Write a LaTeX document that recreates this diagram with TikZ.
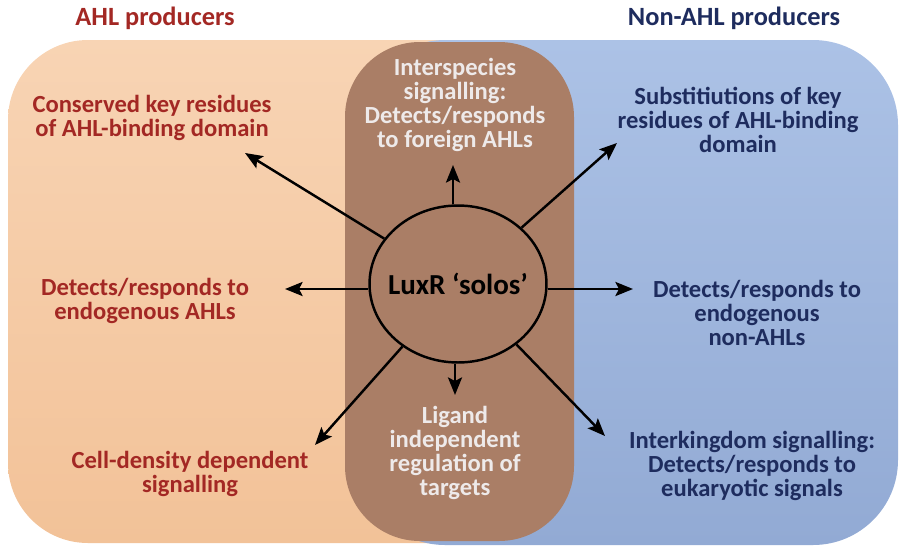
\documentclass[tikz,border=0pt]{standalone}
\usepackage{fontspec}
\setmainfont{Carlito}
\usetikzlibrary{shapes.geometric,arrows.meta}
\definecolor{peach}{RGB}{242,194,152}
\definecolor{peachlight}{RGB}{248,212,180}
\definecolor{skyblue}{RGB}{146,170,212}
\definecolor{skylight}{RGB}{172,194,230}
\definecolor{mocha}{RGB}{170,126,102}
\definecolor{ahlred}{RGB}{163,40,36}
\definecolor{ahlnavy}{RGB}{30,44,94}
\definecolor{paletext}{RGB}{238,234,234}

\begin{document}
\begin{tikzpicture}[x=0.02cm,y=-0.02cm,>={Stealth[length=10pt,width=8pt,inset=2pt]},
    every node/.style={align=center,font=\bfseries\fontsize{14}{13.6}\selectfont},
    prod/.style={text=ahlred},
    nonprod/.style={text=ahlnavy},
    shared/.style={text=paletext},
    heading/.style={font=\bfseries\fontsize{15}{16}\selectfont},
    hub/.style={ellipse,draw,line width=1.4pt,inner sep=0pt,minimum width=3.54cm,minimum height=3.14cm},
    con/.style={->,line width=1.4pt}
    ]
    \useasboundingbox (0,0) rectangle (900,545);
    % panels
    \shade[top color=peachlight,bottom color=peach,rounded corners=1.6cm] (8,40) rectangle (600,543);
    \shade[top color=skylight,bottom color=skyblue,rounded corners=1.7cm] (360,40) rectangle (898,545);
    \fill[mocha,rounded corners=1.5cm] (345,42) rectangle (574,541);

    \node (ahl) [prod,heading] at (155,18) {AHL producers};
    \node (nonahl) [nonprod,heading] at (734,18) {Non-AHL producers};

    \node (solo) [hub] at (458,284) {};
    \node (solotext) [font=\bfseries\fontsize{16.5}{18}\selectfont] at (solo) {LuxR ‘solos’};

    \node (n1) [prod] at (152,118) {Conserved key residues\\of AHL-binding domain};
    \node (n2) [shared] at (455,105) {Interspecies\\signalling:\\Detects/responds\\to foreign AHLs};
    \node (n3) [nonprod] at (738,120) {Substitiutions of key\\residues of AHL-binding\\domain};
    \node (n4) [prod] at (145,301) {Detects/responds to\\endogenous AHLs};
    \node (n5) [nonprod] at (757,313) {Detects/responds to\\endogenous\\non-AHLs};
    \node (n6) [prod] at (190,474) {Cell-density dependent\\signalling};
    \node (n7) [shared] at (455,453) {Ligand\\independent\\regulation of\\targets};
    \node (n8) [nonprod] at (752,466) {Interkingdom signalling:\\Detects/responds to\\eukaryotic signals};

    % arrow tips
    \coordinate (t1) at (245,153);
    \coordinate (t2) at (453,165);
    \coordinate (t3) at (617,143);
    \coordinate (t4) at (285,289);
    \coordinate (t5) at (633,289);
    \coordinate (t6) at (315,445);
    \coordinate (t7) at (455,395);
    \coordinate (t8) at (605,436);

    \draw [con] (solo) -- (t1);
    \draw [con] (solo.north -| t2) -- (t2);
    \draw [con] (solo) -- (t3);
    \draw [con] (solo.west |- t4) -- (t4);
    \draw [con] (solo.east |- t5) -- (t5);
    \draw [con] (solo) -- (t6);
    \draw [con] (solo.south -| t7) -- (t7);
    \draw [con] (solo) -- (t8);
\end{tikzpicture}
\end{document}
